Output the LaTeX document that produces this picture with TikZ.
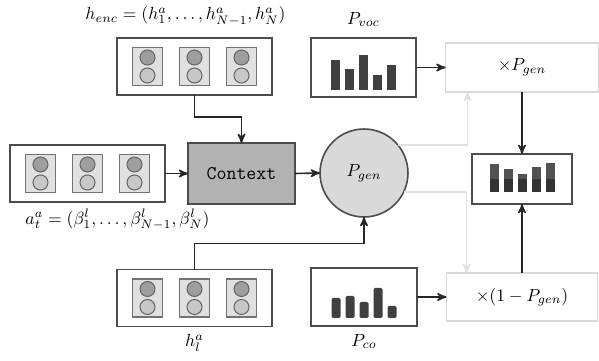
\documentclass[tikz,border=0pt]{standalone}
\usetikzlibrary{arrows,calc,positioning}
\begin{document}
\begin{tikzpicture}[x=0.02cm,y=-0.02cm,>=stealth',
  box/.style={draw=black!70,line width=0.9pt,inner sep=0pt,outer sep=0pt},
  cell/.style={draw=black!55,fill=black!12,line width=0.7pt,minimum width=0.6cm,minimum height=0.76cm,inner sep=0pt},
  dot/.style={circle,draw=black!60,line width=0.6pt,minimum size=0.3cm,inner sep=0pt},
  flow/.style={->,draw=black!85,line width=0.9pt},
  faint/.style={->,draw=black!12,line width=0.9pt},
  bar/.style={fill=black!75},
  lbl/.style={inner sep=1pt}]

\useasboundingbox (0,0) rectangle (599,361);

\node[box,minimum width=3.1cm,minimum height=1.14cm]   (enc)  at (194.5,66.5)  {};
\node[box,minimum width=3.1cm,minimum height=1.14cm]   (att)  at (87.5,173.5)  {};
\node[box,minimum width=3.1cm,minimum height=1.14cm]   (hl)   at (194.5,298)   {};
\node[box,fill=black!30,minimum width=2.14cm,minimum height=1.22cm,font=\ttfamily\fontsize{11}{13}\selectfont] (ctx) at (241.5,173.5) {Context};
\node[box,circle,fill=black!15,minimum size=1.76cm]    (gen)  at (364,173)     {$P_{gen}$};
\node[box,minimum width=2.1cm,minimum height=1.18cm]   (voc)  at (363.5,67.5)  {};
\node[box,minimum width=2.12cm,minimum height=1.16cm]  (pco)  at (364,297)     {};
\node[box,draw=black!15,minimum width=3.06cm,minimum height=0.98cm] (mulg) at (522,67.5) {$\times P_{gen}$};
\node[box,draw=black!15,minimum width=3.02cm,minimum height=0.96cm] (mulc) at (522,297)  {$\times(1-P_{gen})$};
\node[box,minimum width=2cm,minimum height=1cm]        (res)  at (522,179)     {};

% labels
\node[lbl,above=0.2cm of enc,xshift=-0.18cm] (enclbl) {$h_{enc}=(h^a_1,\ldots,h^a_{N-1},h^a_N)$};
\node[lbl,above=0.18cm of voc]               (voclbl) {$P_{voc}$};
\node[lbl,below=0.1cm of att,xshift=0.6cm]   (attlbl) {$a^a_t=(\beta^l_1,\ldots,\beta^l_{N-1},\beta^l_N)$};
\node[lbl,below=0.12cm of hl]                (hllbl)  {$h^a_l$};
\node[lbl,below=0.12cm of pco]               (pcolbl) {$P_{co}$};

% cells of the encoder states
\foreach \b in {enc,att,hl}
  \foreach \c/\dx in {1/-47,2/0,3/47} {
    \node[cell] (\b\c) at ($(\b)+(\dx,0)$) {};
    \node[dot,fill=black!38] (\b\c t) at ($(\b\c)+(0,-9)$) {};
    \node[dot,fill=black!22] (\b\c b) at ($(\b\c)+(0,9)$) {};
  }

% distributions
\foreach \dx/\h in {-28/30,-14/21,0/35,14/15,28/25}
  \fill[bar] ($(voc)+(\dx-4.5,22.5)$) rectangle ++(9,-\h);
\foreach \dx/\h in {-28/20,-14/22,0/16,14/30,28/12}
  \fill[bar,rounded corners=0.8pt] ($(pco)+(\dx-4.5,21)$) rectangle ++(9,-\h);
\foreach \dx/\h in {-28/28,-14/23,0/18,14/25,28/29} {
  \fill[black!68] ($(res)+(\dx-4.5,13)$) rectangle ++(9,-\h);
  \fill[black!80] ($(res)+(\dx-4.5,13)$) rectangle ++(9,-13);
}

% connections
\draw[flow] (enc.south) -- ++(0,22) -| (ctx.north);
\draw[flow] (att.east) -- (ctx.west);
\draw[flow] (ctx.east) -- (gen.west);
\draw[flow] (hl.north) -- ++(0,-26) -| (gen.south);
\draw[flow] (voc.east) -- (mulg.west);
\draw[flow] (pco.east) -- (mulc.west);
\draw[flow] (mulg.south) -- (res.north);
\draw[flow] (mulc.north) -- (res.south);
\coordinate (tapg) at ($(mulg.south west)+(22,0)$);
\coordinate (tapc) at ($(mulc.north west)+(20,0)$);
\draw[faint] (gen.40) -| (tapg);
\draw[faint] (gen.-26) -| (tapc);

\end{tikzpicture}
\end{document}
